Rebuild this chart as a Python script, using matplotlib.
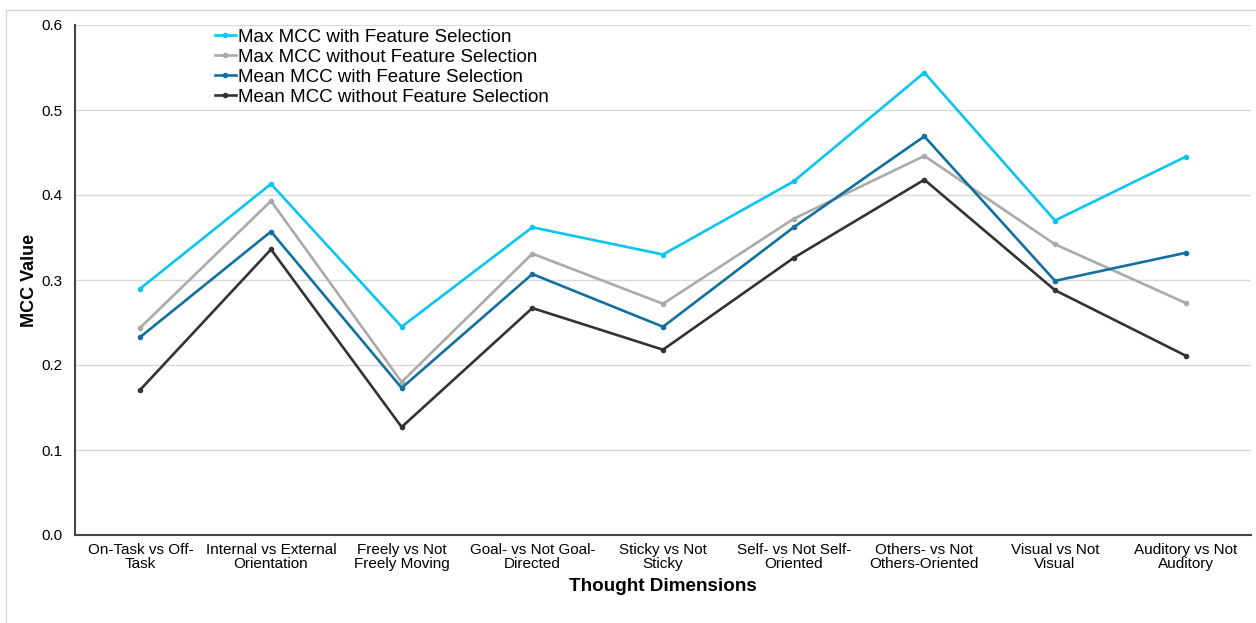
import matplotlib
matplotlib.use("Agg")
import matplotlib.pyplot as plt
from matplotlib.lines import Line2D
import numpy as np

categories = [
    "On-Task vs Off-\nTask",
    "Internal vs External\nOrientation",
    "Freely vs Not\nFreely Moving",
    "Goal- vs Not Goal-\nDirected",
    "Sticky vs Not\nSticky",
    "Self- vs Not Self-\nOriented",
    "Others- vs Not\nOthers-Oriented",
    "Visual vs Not\nVisual",
    "Auditory vs Not\nAuditory",
]
max_fs = [0.290, 0.413, 0.245, 0.362, 0.330, 0.416, 0.544, 0.370, 0.445]
max_nofs = [0.244, 0.393, 0.180, 0.331, 0.272, 0.372, 0.446, 0.342, 0.273]
mean_fs = [0.233, 0.357, 0.173, 0.307, 0.245, 0.362, 0.469, 0.299, 0.332]
mean_nofs = [0.171, 0.336, 0.127, 0.267, 0.218, 0.326, 0.418, 0.288, 0.211]
series_names = [
    "Max MCC with Feature Selection",
    "Max MCC without Feature Selection",
    "Mean MCC with Feature Selection",
    "Mean MCC without Feature Selection",
]
yticks = [0.0, 0.1, 0.2, 0.3, 0.4, 0.5, 0.6]

plt.rcParams['font.family'] = ['Liberation Sans', 'DejaVu Sans']

fig = plt.figure(figsize=(12.56, 6.23), dpi=100)
ax = fig.add_axes([75/1256, 1-535/623, (1251-75)/1256, (535-25)/623])

# figure border (top and left visible)
fig.add_artist(Line2D([6/1256, 6/1256], [0, 1-10/623], transform=fig.transFigure,
                      color='#D9D9D9', lw=1))
fig.add_artist(Line2D([6/1256, 1], [1-10/623, 1-10/623], transform=fig.transFigure,
                      color='#D9D9D9', lw=1))

x = np.arange(len(categories))
colors = ['#0BC5EE', '#AAAAAA', '#12709E', '#333333']
for vals, name, c in zip([max_fs, max_nofs, mean_fs, mean_nofs], series_names, colors):
    ax.plot(x, vals, color=c, lw=1.9, marker='o', markersize=3, label=name)

ax.set_xlim(-0.5, len(categories) - 0.5)
ax.set_ylim(0, 0.6)
ax.set_yticks(yticks)
ax.set_yticklabels([f"{v:.1f}" for v in yticks], fontsize=11)
ax.set_xticks(x)
ax.set_xticklabels(categories, fontsize=11, linespacing=1.0)
ax.tick_params(axis='both', length=0)
ax.tick_params(axis='y', pad=9)
ax.tick_params(axis='x', pad=6)
ax.grid(axis='y', color='#D9D9D9', lw=1)
ax.set_axisbelow(True)
for s in ['top', 'right']:
    ax.spines[s].set_visible(False)
for s in ['left', 'bottom']:
    ax.spines[s].set_color('#444444')
    ax.spines[s].set_linewidth(1.5)

ax.set_xlabel("Thought Dimensions", fontsize=13.6, fontweight='bold', labelpad=5)
ax.set_ylabel("MCC Value", fontsize=13, fontweight='bold')
ax.yaxis.set_label_coords((38-75)/1176, 0.5)

ax.legend(loc='upper left', bbox_to_anchor=(132/1176, 1.008), frameon=False,
          fontsize=13.5, handlelength=1.15, handletextpad=0.1, labelspacing=0.16,
          borderaxespad=0)

fig.savefig("out.png", dpi=100)
